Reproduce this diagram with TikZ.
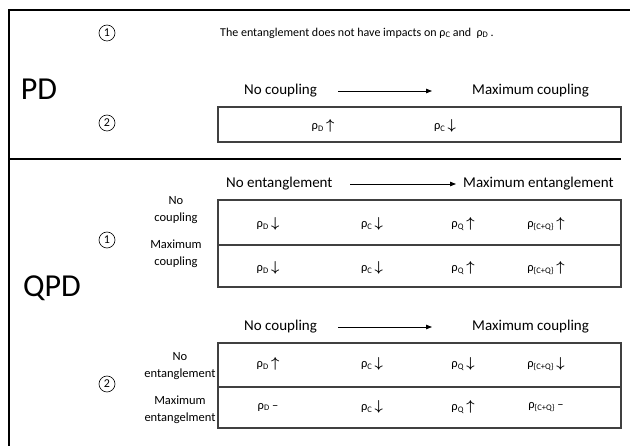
\documentclass[tikz,border=0pt]{standalone}
\usepackage{fontspec}
\setmainfont{Carlito}
\usetikzlibrary{arrows.meta}
\newcommand\rs[2]{#1\raisebox{-0.3ex}{\fontsize{8.5}{9}\selectfont #2}}
\newcommand\rst[2]{#1\raisebox{-0.3ex}{\fontsize{8.5}{9}\selectfont #2}}
\newcommand\up{{\fontsize{14}{14}\selectfont\boldmath$\uparrow$}}
\newcommand\dn{{\fontsize{14}{14}\selectfont\boldmath$\downarrow$}}
\begin{document}
\begin{tikzpicture}[x=1pt,y=-1pt,
 frame/.style={line width=2pt, black},
 tbl/.style={line width=1.1pt, black!75},
 txt/.style={font=\fontsize{15}{18}\selectfont, inner sep=0pt, anchor=west},
 small/.style={font=\fontsize{12}{15}\selectfont, inner sep=0pt, anchor=west},
 lbl/.style={font=\fontsize{12.5}{17.5}\selectfont, align=center, inner sep=0pt},
 cell/.style={font=\fontsize{12.5}{15}\selectfont, inner sep=0pt},
 circ/.style={circle, draw, line width=0.6pt, minimum size=16pt, inner sep=0pt, font=\fontsize{12}{12}\selectfont},
 big/.style={font=\fontsize{32}{36}\selectfont, inner sep=0pt},
 arr/.style={-{Triangle[length=6pt,width=4.5pt]}, line width=0.8pt}]
\useasboundingbox (0,0) rectangle (630,446);
\fill[white] (0,0) rectangle (630,446);
% frame
\draw[frame] (630,10) -- (9,10) -- (9,446);
\draw[frame] (9,159) -- (621,159);
% ---------- PD ----------
\node[big] (pd) at (39,89) {PD};
\node[circ] (pd1) at (107,33) {1};
\node[circ] (pd2) at (107,123) {2};
\node[small] (pdtext) at (220,33) {The entanglement does not have impacts on \rst{ρ}{C} and\ \ \rst{ρ}{D}\ .};
\node[txt] (pdnc) at (244,91) {No coupling};
\node[txt] (pdmc) at (472,91) {Maximum coupling};
\coordinate (pda1) at (338,91);
\coordinate (pda2) at (432,91);
\draw[arr] (pda1) -- (pda2);
\draw[tbl] (218,107) rectangle (621,142);
\node[cell] (pdd) at (323,126) {\rs{ρ}{D} \up};
\node[cell] (pdc) at (445,126) {\rs{ρ}{C} \dn};
% ---------- QPD ----------
\node[big] (qpd) at (52,288) {QPD};
% part 1
\node[txt] (qne) at (226,184) {No entanglement};
\node[txt] (qme) at (463,184) {Maximum entanglement};
\coordinate (qa1) at (350,184);
\coordinate (qa2) at (456,184);
\draw[arr] (qa1) -- (qa2);
\node[circ] (q1) at (107,240) {1};
\draw[tbl] (218,200) rectangle (621,287);
\draw[tbl] (218,245) -- (621,245);
\node[lbl] (q1r1) at (176,210) {No\\coupling};
\node[lbl] (q1r2) at (176,254) {Maximum\\coupling};
\node[cell] (c11) at (268,224) {\rs{ρ}{D} \dn};
\node[cell] (c12) at (372,224) {\rs{ρ}{C} \dn};
\node[cell] (c13) at (463,224) {\rs{ρ}{Q} \up};
\node[cell] (c14) at (546,224) {\rs{ρ}{\{C+Q\}} \up};
\node[cell] (c21) at (268,268) {\rs{ρ}{D} \dn};
\node[cell] (c22) at (372,268) {\rs{ρ}{C} \dn};
\node[cell] (c23) at (463,268) {\rs{ρ}{Q} \up};
\node[cell] (c24) at (546,268) {\rs{ρ}{\{C+Q\}} \up};
% part 2
\node[txt] (qnc) at (244,327) {No coupling};
\node[txt] (qmc) at (472,327) {Maximum coupling};
\coordinate (qb1) at (338,327);
\coordinate (qb2) at (432,327);
\draw[arr] (qb1) -- (qb2);
\node[circ] (q2) at (107,384) {2};
\draw[tbl] (218,343) rectangle (621,428);
\draw[tbl] (218,387) -- (621,387);
\node[lbl] (q2r1) at (180,366) {No\\entanglement};
\node[lbl] (q2r2) at (180,410) {Maximum\\entangelment};
\node[cell] (d11) at (268,364) {\rs{ρ}{D} \up};
\node[cell] (d12) at (372,364) {\rs{ρ}{C} \dn};
\node[cell] (d13) at (463,364) {\rs{ρ}{Q} \dn};
\node[cell] (d14) at (546,364) {\rs{ρ}{\{C+Q\}} \dn};
\node[cell] (d21) at (268,407) {\rs{ρ}{D} –};
\node[cell] (d22) at (372,407) {\rs{ρ}{C} \dn};
\node[cell] (d23) at (463,407) {\rs{ρ}{Q} \up};
\node[cell] (d24) at (546,407) {\rs{ρ}{\{C+Q\}} –};
\end{tikzpicture}
\end{document}
